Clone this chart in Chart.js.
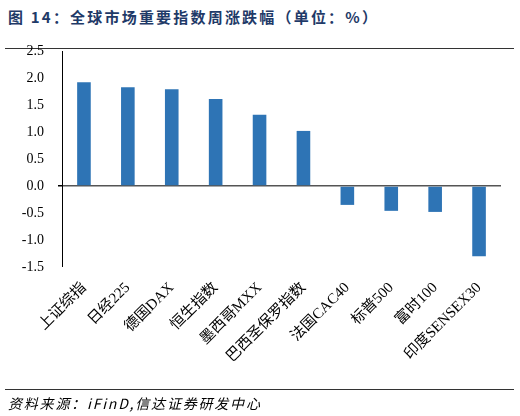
<!DOCTYPE html>
<html>
<head>
<meta charset="utf-8">
<script src="https://cdn.jsdelivr.net/npm/chart.js@4"></script>
<style>
  body { margin: 0; width: 520px; height: 416px; position: relative; background: #fff; overflow: hidden; }
  #title { position: absolute; left: 8px; top: 6px; font: bold 15px "Noto Sans CJK SC", sans-serif; color: #1f3a68; letter-spacing: 2.2px; white-space: nowrap; }
  .rule { position: absolute; left: 5px; width: 509px; height: 0; border-top: 1.5px solid #333; }
  #source { position: absolute; left: 8px; top: 393px; font: italic 14px "Noto Sans CJK SC", sans-serif; color: #000; white-space: nowrap; letter-spacing: 1.8px; }
  #wrap { position: absolute; left: 0; top: 0; width: 520px; height: 416px; }
</style>
</head>
<body>
<div id="title">图 14：全球市场重要指数周涨跌幅（单位：%）</div>
<div class="rule" style="top:48px"></div>
<div id="wrap"><canvas id="myChart"></canvas></div>
<div class="rule" style="top:389px"></div>
<div id="source">资料来源：iFinD,信达证券研发中心</div>
<script>
// 指数名称 + 周涨跌幅(%)
let indexNames = ['上证综指', '日经225', '德国DAX', '恒生指数', '墨西哥MXX', '巴西圣保罗指数', '法国CAC40', '标普500', '富时100', '印度SENSEX30'];
let weekChange = [1.92, 1.83, 1.79, 1.61, 1.32, 1.02, -0.35, -0.46, -0.48, -1.30];
let yMin = -1.5, yMax = 2.5, yStep = 0.5;

let ctx = document.getElementById('myChart');

function setChart(labels, data) {
    return {
        type: 'bar',
        data: {
            labels: labels,
            datasets: [{
                data: data,
                backgroundColor: '#2e74b5',
                borderWidth: 0,
                barPercentage: 0.62,
                categoryPercentage: 0.5
            }]
        },
        options: {
            responsive: true,
            maintainAspectRatio: false,
            animation: false,
            layout: { padding: { top: 51, right: 19, left: 0, bottom: 0 } },
            plugins: { legend: { display: false }, tooltip: { enabled: false } },
            scales: {
                x: {
                    grid: { display: false },
                    border: { display: false },
                    ticks: {
                        color: '#000',
                        maxRotation: 45,
                        minRotation: 45,
                        autoSkip: false,
                        padding: 4,
                        font: { family: '"Liberation Serif", "Noto Sans CJK SC", serif', size: 15 }
                    },
                    afterFit: s => { s.height = 416 - 267; }
                },
                y: {
                    min: yMin,
                    max: yMax,
                    border: { display: true, color: '#000', width: 1 },
                    grid: {
                        color: c => (c.tick && c.tick.value === 0) ? '#555' : 'rgba(0,0,0,0)',
                        lineWidth: c => (c.tick && c.tick.value === 0) ? 1.5 : 0,
                        tickColor: '#000',
                        tickLength: 4,
                        drawTicks: true
                    },
                    ticks: {
                        stepSize: yStep,
                        color: '#000',
                        padding: 14,
                        font: { family: '"Liberation Serif", serif', size: 14 },
                        callback: v => Number(v).toFixed(1)
                    },
                    afterFit: s => { s.width = 62; }
                }
            }
        }
    };
}

new Chart(ctx, setChart(indexNames, weekChange));
</script>
</body>
</html>
